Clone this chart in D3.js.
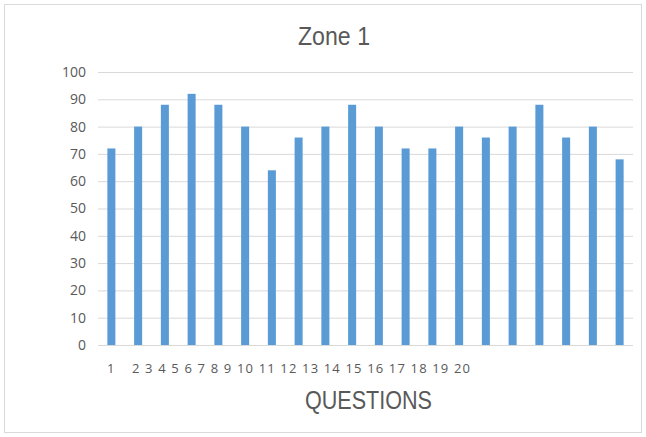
<!DOCTYPE html>
<html>
<head>
	<meta charset="utf-8">
	<title>Zone 1</title>
	<script src="https://cdn.jsdelivr.net/npm/d3@7"></script>
	<style>
		body{ margin:0; background:#fff; }
		.lbl{ font-family:"Liberation Sans",Arial,sans-serif; fill:#595959; }
		.tick{ font-family:"Open Sans","Liberation Sans",sans-serif; font-size:13px; fill:#595959; }
		.ytick{ font-size:14px; }
	</style>
</head>
<body>
<div id="chart"></div>
<script>
var questions = ["1","2","3","4","5","6","7","8","9","10","11","12","13","14","15","16","17","18","19","20"];
var scores = [72,80,88,92,88,80,64,76,80,88,80,72,72,80,76,80,88,76,80,68];
var yTicks = [0,10,20,30,40,50,60,70,80,90,100];

var W = 646, H = 437;
var svg = d3.select("#chart").append("svg").attr("width", W).attr("height", H);

// outer frame
svg.append("rect").attr("x",4.5).attr("y",4.5).attr("width",637).attr("height",428)
	.attr("fill","#fff").attr("stroke","#d9d9d9");

var x = d3.scaleBand().domain(questions).range([98,633]).paddingInner(0.7).paddingOuter(0.35);
var y = d3.scaleLinear().domain([0,100]).range([345,72]);

// gridlines
svg.append("g").selectAll("line").data(yTicks).enter().append("line")
	.attr("x1",98).attr("x2",633)
	.attr("y1",function(d){ return y(d)+0.5; }).attr("y2",function(d){ return y(d)+0.5; })
	.attr("stroke","#d9d9d9");

// y labels
svg.append("g").selectAll("text").data(yTicks).enter().append("text")
	.attr("class","tick ytick")
	.attr("x",86).attr("y",function(d){ return y(d); })
	.attr("dy","0.35em").attr("text-anchor","end")
	.text(function(d){ return d; });

// bars
svg.append("g").selectAll("rect").data(scores).enter().append("rect")
	.attr("x",function(d,i){ return x(questions[i]); })
	.attr("width",x.bandwidth())
	.attr("y",function(d){ return y(d); })
	.attr("height",function(d){ return y(0)-y(d); })
	.attr("fill","#5b9bd5");

// x labels - squeezed into a run like in the original
svg.append("text").attr("class","tick").attr("x",107).attr("y",373).text(questions[0]);
svg.append("text").attr("class","tick").attr("x",132).attr("y",373)
	.attr("textLength",338).attr("lengthAdjust","spacing")
	.text(questions.slice(1).join(" "));

// titles (narrow font look)
svg.append("text").attr("class","lbl").attr("x",298).attr("y",45)
	.attr("font-size","25px").attr("textLength",72).attr("lengthAdjust","spacingAndGlyphs")
	.text("Zone 1");
svg.append("text").attr("class","lbl").attr("x",305).attr("y",409)
	.attr("font-size","26px").attr("textLength",127).attr("lengthAdjust","spacingAndGlyphs")
	.text("QUESTIONS");
</script>
</body>
</html>
